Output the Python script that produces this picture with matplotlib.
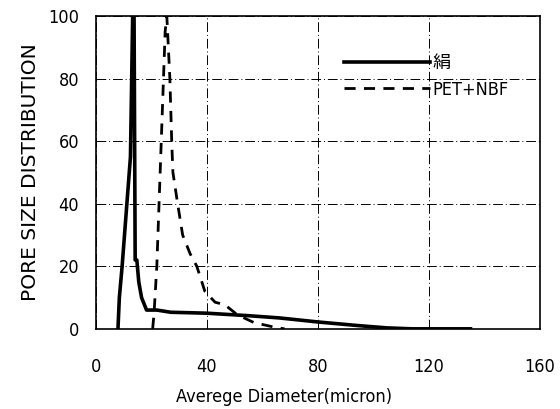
import matplotlib.pyplot as plt

# 絹 (silk) - solid line
silk_x = [8, 8.5, 9.5, 12.5, 13.3, 13.8, 14.2, 14.8, 15.5, 16.5, 18.3, 22, 27, 40, 55, 66, 80, 95, 105, 114, 135]
silk_y = [0, 10, 20, 55, 100, 100, 22, 22, 15, 10, 6, 6, 5.3, 5, 4.2, 3.5, 2.2, 1, 0.3, 0, 0]

# PET+NBF - dashed line
pet_x = [20.5, 21, 22, 23, 24, 25, 25.6, 26.7, 27.4, 27.8, 29.5, 31.3, 34, 36.4, 39.3, 43, 46.5, 51, 57, 64.5, 68]
pet_y = [0, 5, 20, 45, 70, 95, 100, 80, 59, 50, 40, 30, 24, 20, 12, 8.5, 7.7, 4.5, 2, 0.5, 0]

plt.rcParams['font.family'] = ['DejaVu Sans', 'Noto Sans CJK JP']
plt.rcParams['font.stretch'] = 'condensed'

fig = plt.figure(figsize=(5.6, 4.09), dpi=100)
ax = fig.add_axes([0.171, 0.196, 0.793, 0.765])

ax.plot(silk_x, silk_y, color='black', lw=2.6, label='絹')
ax.plot(pet_x, pet_y, color='black', lw=2.0, dashes=(4, 3), label='PET+NBF')

ax.set_xlim(0, 160)
ax.set_ylim(0, 100)
ax.set_xticks([0, 40, 80, 120, 160])
ax.set_yticks([0, 20, 40, 60, 80, 100])
ax.tick_params(length=0, labelsize=13)
ax.tick_params(axis='x', pad=21)
ax.tick_params(axis='y', pad=12)

ax.grid(True, color='black', lw=0.7, linestyle=(0, (10, 3, 1, 3)))
for s in ax.spines.values():
    s.set_linewidth(1.2)

ax.set_xlabel('Averege Diameter(micron)', fontsize=13)
ax.xaxis.set_label_coords(0.423, -0.19)
ax.set_ylabel('PORE SIZE DISTRIBUTION', fontsize=14.5, fontstretch='normal', labelpad=6)

ax.legend(loc='upper right', frameon=False, handlelength=4.8, fontsize=13,
          bbox_to_anchor=(0.945, 0.90), borderaxespad=0, handletextpad=0.1, labelspacing=0.45)

fig.savefig('out.png', dpi=100)
